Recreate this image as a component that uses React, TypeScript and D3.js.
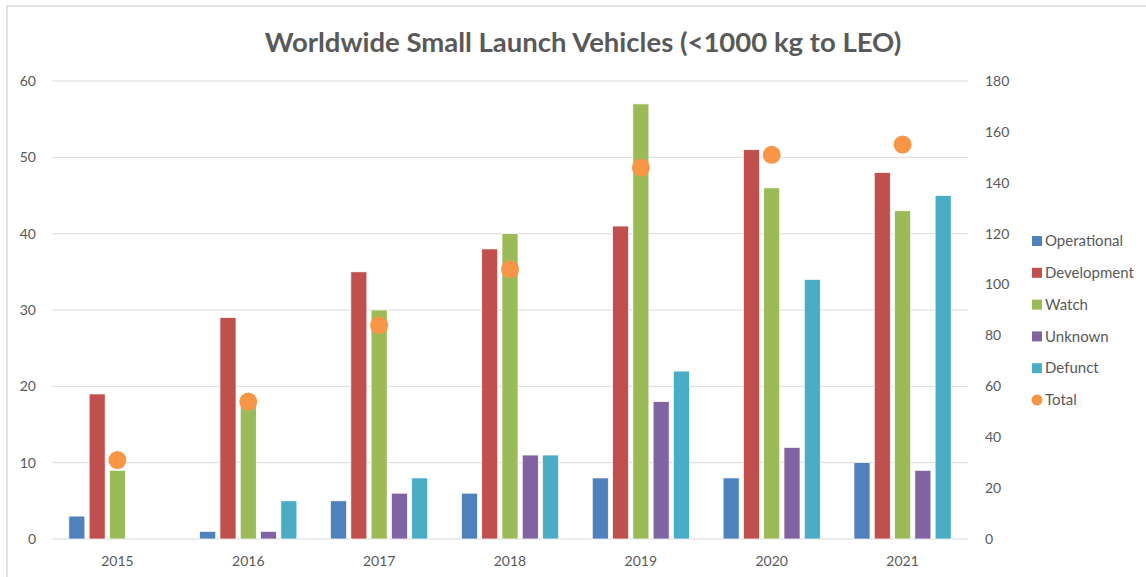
import * as d3 from "d3";

const years = ["2015", "2016", "2017", "2018", "2019", "2020", "2021"];
const seriesNames = ["Operational", "Development", "Watch", "Unknown", "Defunct"];
const operational = [3, 1, 5, 6, 8, 8, 10];
const development = [19, 29, 35, 38, 41, 51, 48];
const watch = [9, 18, 30, 40, 57, 46, 43];
const unknown = [0, 1, 6, 11, 18, 12, 9];
const defunct = [0, 5, 8, 11, 22, 34, 45];
const total = [31, 54, 84, 106, 146, 151, 155];
const leftTicks = [0, 10, 20, 30, 40, 50, 60];
const rightTicks = [0, 20, 40, 60, 80, 100, 120, 140, 160, 180];
const colors = ["#4F81BD", "#C0504D", "#9BBB59", "#8064A2", "#4BACC6"];
const totalColor = "#F79646";

const W = 1146;
const H = 577;
const FONT = "Lato, 'Open Sans', sans-serif";

export default function App() {
  const series = [operational, development, watch, unknown, defunct];
  const x = d3.scaleBand<string>().domain(years).range([52, 968]);
  const inner = d3
    .scaleBand<string>()
    .domain(seriesNames)
    .range([0, x.bandwidth()])
    .paddingInner(0.21)
    .paddingOuter(0.83);
  const yL = d3.scaleLinear().domain([0, 60]).range([539, 81]);
  const yR = d3.scaleLinear().domain([0, 180]).range([539, 81]);

  return (
    <svg width={W} height={H} style={{ position: "absolute", left: 0, top: 0 }}>
      <rect x={0} y={0} width={W} height={H} fill="#fff" />
      <rect x={7} y={6} width={W + 20} height={H + 20} fill="none" stroke="#D9D9D9" strokeWidth={1.5} />
      <text
        x={583}
        y={52}
        textAnchor="middle"
        fontFamily={FONT}
        fontWeight="bold"
        fontSize={27.5}
        fill="#595959"
      >
        Worldwide Small Launch Vehicles (&lt;1000 kg to LEO)
      </text>

      {leftTicks.map((t) => (
        <g key={"l" + t}>
          <line x1={52} x2={968} y1={yL(t)} y2={yL(t)} stroke="#D9D9D9" strokeWidth={1} />
          <text x={36} y={yL(t)} dy="0.35em" textAnchor="end" fontFamily={FONT} fontSize={14} fill="#595959">
            {t}
          </text>
        </g>
      ))}
      {rightTicks.map((t) => (
        <text key={"r" + t} x={985} y={yR(t)} dy="0.35em" fontFamily={FONT} fontSize={14} fill="#595959">
          {t}
        </text>
      ))}

      {years.map((yr, i) => (
        <g key={yr} transform={`translate(${x(yr)},0)`}>
          {series.map((s, j) =>
            s[i] > 0 ? (
              <rect
                key={j}
                x={inner(seriesNames[j])}
                y={yL(s[i])}
                width={inner.bandwidth()}
                height={yL(0) - yL(s[i])}
                fill={colors[j]}
                stroke="#fff"
                strokeWidth={0.7}
              />
            ) : null
          )}
          <text
            x={x.bandwidth() / 2}
            y={561}
            dy="0.35em"
            textAnchor="middle"
            fontFamily={FONT}
            fontSize={14}
            fill="#595959"
          >
            {yr}
          </text>
        </g>
      ))}

      {years.map((yr, i) => (
        <circle key={"t" + yr} cx={(x(yr) as number) + x.bandwidth() / 2} cy={yR(total[i])} r={9} fill={totalColor} />
      ))}

      {seriesNames.concat(["Total"]).map((name, i) => {
        const ly = 241 + i * 31.8;
        return (
          <g key={name}>
            {i < 5 ? (
              <rect x={1032} y={ly - 5} width={10} height={10} fill={colors[i]} />
            ) : (
              <circle cx={1037} cy={ly} r={5.5} fill={totalColor} />
            )}
            <text x={1045} y={ly} dy="0.35em" fontFamily={FONT} fontSize={15} fill="#595959">
              {name}
            </text>
          </g>
        );
      })}
    </svg>
  );
}
